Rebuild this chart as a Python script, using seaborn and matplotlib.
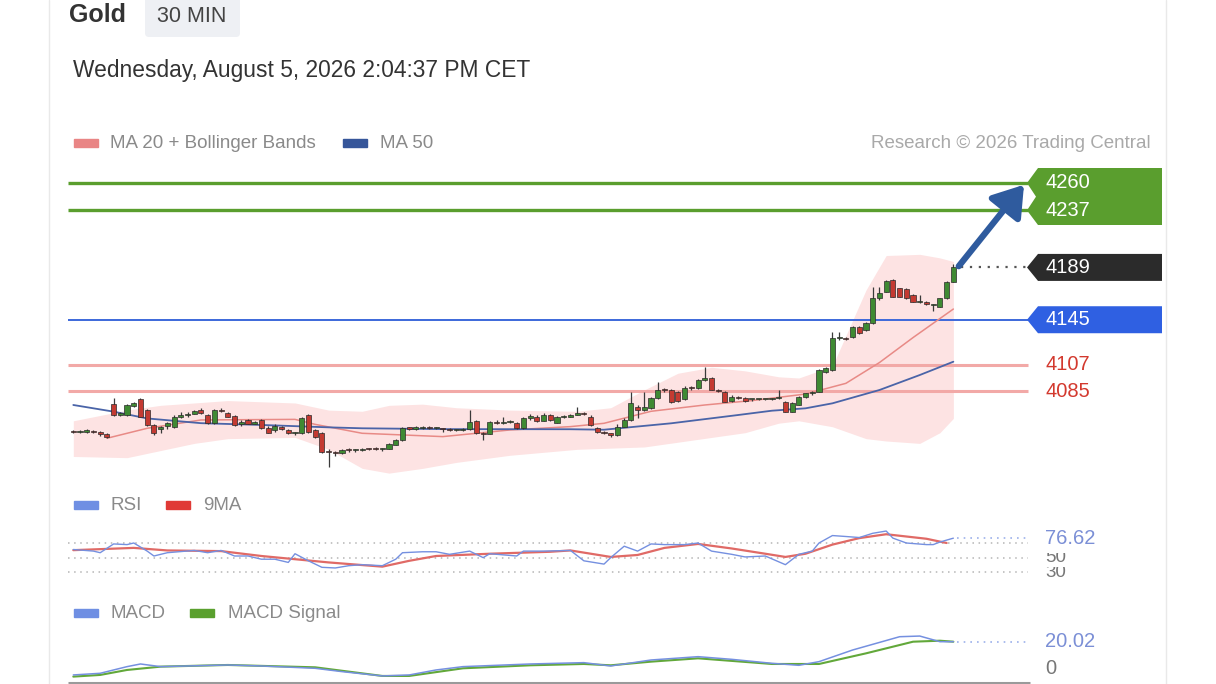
import numpy as np
import pandas as pd
import matplotlib
matplotlib.use("Agg")
import matplotlib.pyplot as plt
import matplotlib.transforms as mtransforms
from matplotlib.patches import Polygon, Rectangle, FancyBboxPatch
from matplotlib.lines import Line2D
import seaborn as sns

# ---------------------------------------------------------------------
# data (30 min candles, gold)
opens = [4051.0, 4050.5, 4051.0, 4051.5, 4050.5, 4049.0, 4074.5, 4065.0, 4064.5, 4072.5,
         4078.0, 4069.0, 4056.5, 4053.0, 4055.5, 4055.0, 4063.5, 4065.0, 4066.0, 4069.0,
         4065.0, 4058.0, 4069.0, 4066.5, 4064.0, 4057.0, 4060.7, 4057.5, 4060.7, 4054.0,
         4052.0, 4055.0, 4052.0, 4049.5, 4050.0, 4064.9, 4052.0, 4050.0, 4034.0, 4033.0,
         4033.0, 4035.5, 4035.4, 4035.8, 4036.8, 4037.0, 4036.0, 4036.5, 4040.0, 4043.8,
         4053.7, 4053.5, 4054.0, 4055.0, 4054.0, 4053.5, 4052.8, 4052.3, 4052.5, 4053.0,
         4060.0, 4049.5, 4049.0, 4059.0, 4058.4, 4059.3, 4058.0, 4053.7, 4062.0, 4063.5,
         4060.0, 4064.5, 4058.5, 4063.5, 4063.5, 4065.0, 4066.0, 4063.5, 4053.7, 4050.9,
         4049.5, 4048.0, 4055.0, 4060.7, 4071.9, 4069.0, 4070.5, 4079.0, 4086.0, 4085.9,
         4084.0, 4078.0, 4087.9, 4087.3, 4094.3, 4095.7, 4086.0, 4084.5, 4077.0, 4080.3,
         4079.5, 4078.0, 4078.0, 4078.0, 4078.5, 4079.0, 4076.0, 4067.7, 4073.5, 4080.0,
         4083.0, 4084.5, 4101.0, 4102.7, 4129.4, 4129.4, 4130.8, 4139.2, 4136.0, 4142.0,
         4163.0, 4168.6, 4178.5, 4171.4, 4171.0, 4165.8, 4160.2, 4159.5, 4157.5, 4156.0,
         4163.0, 4177.0]
highs = [4052.5, 4052.0, 4053.0, 4052.5, 4051.5, 4049.5, 4079.0, 4067.5, 4074.0, 4076.0,
         4079.5, 4070.0, 4057.0, 4056.0, 4059.0, 4064.5, 4067.0, 4067.0, 4069.5, 4070.5,
         4066.0, 4070.0, 4070.5, 4067.5, 4064.5, 4060.5, 4061.5, 4060.0, 4061.5, 4056.0,
         4057.0, 4056.0, 4053.0, 4051.0, 4063.0, 4066.0, 4053.0, 4051.0, 4036.0, 4034.5,
         4036.0, 4037.0, 4036.5, 4037.5, 4037.5, 4038.0, 4037.5, 4041.0, 4044.5, 4054.5,
         4055.0, 4055.5, 4056.0, 4055.5, 4054.5, 4054.0, 4054.0, 4053.5, 4054.0, 4069.0,
         4061.0, 4050.5, 4060.0, 4061.0, 4063.5, 4061.0, 4059.0, 4063.0, 4065.5, 4064.5,
         4066.5, 4065.5, 4064.0, 4065.0, 4066.0, 4071.5, 4067.0, 4064.5, 4054.5, 4051.5,
         4050.0, 4057.0, 4062.0, 4084.5, 4073.0, 4084.5, 4080.0, 4093.0, 4088.0, 4087.0,
         4085.0, 4089.0, 4089.0, 4095.0, 4105.6, 4096.5, 4087.0, 4085.0, 4081.5, 4081.0,
         4080.0, 4078.5, 4078.5, 4078.5, 4079.0, 4085.5, 4077.0, 4075.5, 4081.0, 4083.5,
         4085.0, 4103.5, 4105.5, 4135.0, 4135.0, 4130.5, 4140.0, 4140.0, 4143.0, 4172.8,
         4172.8, 4178.5, 4179.5, 4172.0, 4172.0, 4166.5, 4165.8, 4161.0, 4158.5, 4163.5,
         4177.5, 4192.0]
lows = [4049.5, 4049.5, 4050.0, 4049.5, 4047.5, 4045.5, 4064.0, 4064.0, 4064.0, 4071.5,
        4063.0, 4056.0, 4048.0, 4050.0, 4053.0, 4054.0, 4062.5, 4063.0, 4065.5, 4065.5,
        4057.0, 4057.5, 4067.0, 4063.0, 4056.0, 4056.0, 4057.0, 4057.0, 4053.0, 4049.5,
        4051.0, 4052.0, 4048.5, 4048.0, 4049.0, 4050.0, 4045.5, 4033.0, 4021.0, 4030.5,
        4032.0, 4034.0, 4034.0, 4035.0, 4035.5, 4035.5, 4035.0, 4036.0, 4039.5, 4043.0,
        4052.0, 4052.5, 4053.0, 4053.5, 4053.5, 4051.0, 4051.5, 4051.5, 4051.5, 4052.5,
        4049.0, 4043.8, 4048.5, 4057.5, 4057.5, 4058.0, 4053.0, 4053.0, 4061.0, 4059.0,
        4059.5, 4060.0, 4058.0, 4062.0, 4063.0, 4064.5, 4064.5, 4056.0, 4050.0, 4049.0,
        4046.0, 4047.0, 4054.5, 4060.0, 4062.0, 4068.0, 4070.0, 4078.0, 4084.0, 4075.0,
        4075.5, 4077.5, 4086.0, 4086.5, 4093.5, 4085.5, 4084.0, 4075.5, 4076.0, 4078.5,
        4076.0, 4077.0, 4077.5, 4077.5, 4077.5, 4078.0, 4067.0, 4067.0, 4073.0, 4079.5,
        4082.0, 4084.0, 4100.5, 4102.0, 4128.0, 4128.0, 4130.0, 4133.0, 4135.5, 4141.0,
        4162.0, 4168.0, 4164.0, 4164.0, 4162.5, 4159.5, 4159.0, 4157.0, 4152.0, 4155.5,
        4162.5, 4176.5]
closes = [4050.5, 4051.0, 4051.5, 4050.5, 4049.0, 4046.5, 4065.0, 4066.5, 4073.0, 4075.0,
          4063.5, 4056.5, 4049.5, 4055.0, 4058.0, 4063.5, 4065.0, 4066.0, 4068.5, 4066.3,
          4058.0, 4069.0, 4068.5, 4063.5, 4056.5, 4059.3, 4057.3, 4059.0, 4053.7, 4050.0,
          4056.0, 4052.8, 4049.5, 4050.0, 4062.0, 4050.9, 4046.6, 4034.0, 4033.5, 4032.6,
          4035.4, 4035.4, 4035.8, 4036.3, 4036.3, 4036.0, 4037.0, 4040.5, 4044.0, 4053.7,
          4053.5, 4054.0, 4055.0, 4054.0, 4054.0, 4052.8, 4052.3, 4052.5, 4053.0, 4059.3,
          4049.5, 4049.0, 4059.3, 4058.4, 4059.3, 4059.5, 4053.7, 4062.1, 4064.0, 4060.0,
          4064.9, 4060.7, 4063.5, 4063.5, 4065.0, 4066.3, 4065.5, 4056.5, 4050.9, 4049.5,
          4048.0, 4055.0, 4060.7, 4074.7, 4069.0, 4071.9, 4079.0, 4086.0, 4085.9, 4076.1,
          4077.0, 4087.9, 4087.5, 4094.3, 4095.7, 4086.0, 4085.0, 4076.0, 4080.3, 4079.5,
          4076.5, 4078.0, 4078.0, 4078.0, 4078.5, 4079.5, 4067.7, 4074.7, 4080.3, 4083.0,
          4084.5, 4102.7, 4104.7, 4129.4, 4129.4, 4129.0, 4139.2, 4133.5, 4142.0, 4163.0,
          4167.2, 4177.6, 4164.4, 4164.4, 4163.0, 4160.2, 4160.5, 4158.0, 4157.5, 4163.0,
          4177.0, 4189.0]

# MA 20, MA 50 and Bollinger envelope, sampled at candle numbers
ma20_idx = [5, 11, 19, 33, 36, 43, 55, 65, 74, 79, 86, 94, 101, 109, 115, 120, 125, 131]
ma20_val = [4045.3, 4053.7, 4060.7, 4061.2, 4057.0, 4049.5, 4046.7, 4052.3, 4055.1, 4057.9,
            4068.0, 4073.3, 4077.0, 4082.5, 4091.5, 4109.0, 4130.0, 4154.0]
ma50_idx = [0, 6, 11, 19, 28, 38, 43, 55, 74, 79, 89, 99, 104, 109, 113, 120, 126, 131]
ma50_val = [4073.3, 4067.7, 4062.0, 4058.0, 4056.5, 4054.5, 4053.7, 4053.0, 4052.9, 4052.5,
            4057.9, 4064.9, 4068.5, 4070.5, 4074.7, 4085.9, 4098.5, 4109.7]
bb_idx = [0, 8, 13, 18, 23, 33, 38, 43, 47, 52, 57, 65, 75, 80, 85, 90, 95, 100, 105, 108,
          113, 118, 121, 126, 129, 131]
bb_upper = [4060, 4069, 4073, 4075, 4077, 4075, 4069, 4068, 4073, 4074, 4071, 4069, 4068,
            4071, 4086, 4100, 4105, 4102, 4097, 4096, 4106, 4170, 4199, 4200, 4197, 4194]
bb_lower = [4030, 4029, 4035, 4041, 4045, 4046, 4036, 4020, 4016, 4020, 4025, 4031, 4036,
            4037, 4038, 4042, 4046, 4050, 4058, 4060, 4055, 4045, 4043, 4041, 4050, 4062]

# key levels
targets = [4260, 4237]
last_price = 4189
pivot = 4145
supports = [4107, 4085]

# RSI + 9MA
rsi_idx = [0, 3, 4, 6, 8, 9, 11, 12, 14, 18, 20, 22, 24, 26, 28, 30, 32, 33, 35, 37, 39,
           41, 43, 46, 48, 49, 52, 54, 56, 59, 61, 62, 66, 67, 70, 74, 76, 79, 80, 82, 84,
           86, 88, 91, 93, 95, 98, 100, 103, 106, 108, 110, 111, 113, 115, 117, 119, 121,
           122, 124, 127, 128, 129, 131]
rsi_val = [61.1, 58.9, 56.7, 68.7, 67.8, 70.0, 58.9, 52.2, 56.7, 59.8, 56.7, 59.8, 52.2,
           52.2, 47.8, 47.8, 43.4, 55.3, 45.6, 36.7, 35.8, 38.9, 40.3, 38.9, 47.8, 56.7,
           58.0, 58.0, 54.5, 58.9, 50.0, 55.3, 52.2, 58.9, 58.9, 59.8, 45.6, 41.1, 50.0,
           65.6, 58.9, 68.7, 67.8, 67.8, 70.0, 58.9, 54.5, 50.9, 52.2, 40.3, 54.5, 58.9,
           70.0, 80.2, 78.9, 77.5, 83.3, 86.4, 76.7, 70.0, 67.8, 67.8, 71.3, 76.62]
rsi_ma_idx = [0, 9, 14, 22, 28, 33, 38, 46, 50, 54, 62, 71, 74, 80, 84, 88, 93, 98, 103,
              106, 109, 113, 117, 121, 124, 127, 130]
rsi_ma_val = [60.2, 63.3, 59.8, 58.9, 52.2, 47.8, 43.4, 37.6, 45.6, 52.2, 55.3, 58.0, 59.8,
              50.9, 53.6, 63.3, 68.7, 62.5, 55.3, 50.9, 55.3, 67.8, 76.7, 82.0, 78.9, 75.8,
              70.0]
rsi_last = 76.62
rsi_levels = [70, 50, 30]

# MACD + signal
macd_idx = [0, 4, 8, 10, 13, 23, 28, 36, 40, 46, 50, 54, 58, 68, 76, 80, 86, 93, 98, 104,
            108, 111, 116, 123, 126, 129, 131]
macd_val = [-5.0, -3.75, 1.25, 3.25, 1.25, 2.5, 1.75, 0.0, -2.5, -5.75, -5.0, -1.25, 1.25,
            3.25, 4.25, 1.75, 6.25, 8.75, 6.75, 3.75, 2.25, 5.0, 13.75, 23.75, 24.25, 20.0,
            20.02]
sig_idx = [0, 4, 8, 13, 23, 36, 46, 50, 58, 68, 76, 80, 86, 93, 104, 111, 118, 125, 129, 131]
sig_val = [-6.25, -5.0, -1.25, 1.25, 2.5, 0.75, -5.75, -5.75, 0.0, 2.25, 3.25, 2.25, 5.0,
           7.5, 3.25, 3.25, 11.25, 20.0, 20.75, 20.0]
macd_last = 20.02

# ---------------------------------------------------------------------
sns.set_theme(style="white")
plt.rcParams["font.family"] = ["Liberation Sans", "DejaVu Sans"]

W, H = 1216, 684
X0, DX = 73.3, 6.718          # pixel x of first candle, pixel step per candle
PY0, PPU = 183.0, 1.189       # pixel y of the 4260 level, pixels per dollar

GREEN, RED = "#3f8a33", "#c43a32"
LBL_GREEN, LBL_BLUE, LBL_DARK = "#5a9e2e", "#2f60e2", "#2b2b2b"
IND_BLUE = "#7590e0"


def i_at(px):
    return (px - X0) / DX


def price_at(py):
    return targets[0] - (py - PY0) / PPU


def rsi_at(py):
    return 70 - (py - 543) / 0.73


def macd_at(py):
    return (668.3 - py) / 1.33


def rect(l, t, r, b):
    return [l / W, 1 - b / H, (r - l) / W, (b - t) / H]


fig = plt.figure(figsize=(W / 100, H / 100), dpi=100)
fig.patch.set_facecolor("white")
pix = mtransforms.Affine2D().scale(1 / W, -1 / H).translate(0, 1) + fig.transFigure


def txt(px, py, s, **kw):
    kw.setdefault("va", "center")
    return fig.text(px / W, 1 - py / H, s, **kw)


# card borders
for bx in (49, 1166):
    fig.add_artist(Line2D([bx / W, bx / W], [0, 1], color="#e9e9e9", lw=1))

# header --------------------------------------------------------------
txt(69, 15, "Gold", fontsize=18, fontweight="bold", color="#333333")
fig.add_artist(FancyBboxPatch((145, -8), 95, 45, boxstyle="round,pad=0,rounding_size=4",
                              transform=pix, facecolor="#eef0f4", edgecolor="none"))
txt(157, 16, "30 MIN", fontsize=15.5, color="#444444")
txt(73, 71, "Wednesday, August 5, 2026 2:04:37 PM CET", fontsize=16.4, color="#333333")

LEG = dict(fontsize=13.5, color="#8a8a8a")
fig.add_artist(Rectangle((74, 139), 24, 8, transform=pix, color="#e98585"))
txt(110, 143, "MA 20 + Bollinger Bands", **LEG)
fig.add_artist(Rectangle((343, 139), 24, 8, transform=pix, color="#36569a"))
txt(380, 143, "MA 50", **LEG)
txt(1151, 143, "Research \u00a9 2026 Trading Central", ha="right", fontsize=13.5,
    color="#a9a9a9")

# price panel ---------------------------------------------------------
ax = fig.add_axes(rect(68, 160, 1164, 482))
ax.set_xlim(i_at(68), i_at(1164))
ax.set_ylim(price_at(482), price_at(160))
ax.set_axis_off()

ax.fill_between(bb_idx, bb_lower, bb_upper, color="#fde3e3", lw=0, zorder=1)
sns.lineplot(x=ma20_idx, y=ma20_val, ax=ax, color="#e88a86", lw=1.1, zorder=3)
sns.lineplot(x=ma50_idx, y=ma50_val, ax=ax, color="#4a64a8", lw=1.3, zorder=3)

x_l, x_r = i_at(68), i_at(1028)
ax.hlines(targets, x_l, x_r, color=LBL_GREEN, lw=2.4, zorder=2)
ax.hlines(supports, x_l, x_r, color="#f2a9a7", lw=2.2, zorder=2)
ax.hlines(pivot, x_l, x_r, color="#3c68da", lw=1.4, zorder=2)

df = pd.DataFrame({"o": opens, "h": highs, "l": lows, "c": closes})
df["i"] = np.arange(len(df))
up = df["c"] >= df["o"]
ax.vlines(df["i"], df["l"], df["h"], color="#3a3a3a", lw=0.9, zorder=4)
ax.bar(df["i"], (df["c"] - df["o"]).abs().clip(lower=0.9), bottom=df[["o", "c"]].min(axis=1),
       width=0.76, color=np.where(up, GREEN, RED), edgecolor="#2a2a2a", linewidth=0.5,
       zorder=5)

# dotted line from last candle to the price tag
ax.hlines(last_price, len(df) - 1 + 1.2, i_at(1026), color="#555555", lw=1.6,
          linestyles=(0, (1, 3)), zorder=2)

# trend arrow towards the targets
ax.annotate("", xy=(i_at(1024), targets[0] - 1.5), xytext=(len(df) - 1 + 0.8, last_price + 1),
            arrowprops=dict(arrowstyle="-|>,head_length=0.9,head_width=0.6", color="#2f5b9e",
                            lw=4.5, mutation_scale=20, shrinkA=0, shrinkB=0), zorder=6)

# price tags
tip, box_l, box_r = i_at(1027), i_at(1038), i_at(1162)
g_top, g_bot = price_at(168), price_at(225)
notch = (targets[0] + targets[1]) / 2
ax.add_patch(Polygon([(box_l, g_top), (box_r, g_top), (box_r, g_bot), (box_l, g_bot),
                      (tip, targets[1]), (i_at(1036), notch), (tip, targets[0])],
                     closed=True, facecolor=LBL_GREEN, edgecolor="none", clip_on=False,
                     zorder=5))
half = 13.5 / PPU
for lvl, col in ((last_price, LBL_DARK), (pivot, LBL_BLUE)):
    ax.add_patch(Polygon([(box_l, lvl + half), (box_r, lvl + half), (box_r, lvl - half),
                          (box_l, lvl - half), (tip, lvl)],
                         closed=True, facecolor=col, edgecolor="none", clip_on=False,
                         zorder=5))

TAG = dict(fontsize=14.5, va="center")
for lvl in targets + [last_price, pivot]:
    ax.text(i_at(1045), lvl, str(lvl), color="white", zorder=7, **TAG)
for lvl in supports:
    ax.text(i_at(1045), lvl, str(lvl), color="#d3392e", zorder=7, **TAG)

# RSI panel -----------------------------------------------------------
fig.add_artist(Rectangle((74, 501), 24, 8, transform=pix, color="#6f8fe3"))
txt(110, 505, "RSI", **LEG)
fig.add_artist(Rectangle((166, 501), 24, 8, transform=pix, color="#e03a36"))
txt(203, 505, "9MA", **LEG)

ax2 = fig.add_axes(rect(68, 518, 1164, 594))
ax2.set_xlim(i_at(68), i_at(1164))
ax2.set_ylim(rsi_at(594), rsi_at(518))
ax2.set_axis_off()
ax2.hlines(rsi_levels, x_l, x_r, color="#b5b5b5", lw=1.1, linestyles=(0, (1, 3)))
sns.lineplot(x=rsi_ma_idx, y=rsi_ma_val, ax=ax2, color="#e06a66", lw=1.6, zorder=3)
sns.lineplot(x=rsi_idx, y=rsi_val, ax=ax2, color=IND_BLUE, lw=1.0, zorder=4)
ax2.hlines(rsi_last, rsi_idx[-1] + 0.5, i_at(1026), color="#9cb0ea", lw=1.2,
           linestyles=(0, (1, 3)))
ax2.text(i_at(1045), rsi_last, f"{rsi_last:.2f}", color="#7b8fd6", fontsize=14.5,
         va="center")
# the 50 / 30 scale labels only show their lower half in the original
for lvl, clip_top in ((50, 553), (30, 567)):
    t = ax2.text(i_at(1045), lvl, str(lvl), color="#777777", fontsize=13.5, va="center")
    t.set_clip_on(True)
    t.set_clip_path(Rectangle((1030, clip_top), 90, 12, transform=pix))

# MACD panel ----------------------------------------------------------
fig.add_artist(Rectangle((74, 609), 24, 8, transform=pix, color="#6f8fe3"))
txt(110, 613, "MACD", **LEG)
fig.add_artist(Rectangle((190, 609), 24, 8, transform=pix, color="#5aa02e"))
txt(228, 613, "MACD Signal", **LEG)

ax3 = fig.add_axes(rect(68, 622, 1164, 684))
ax3.set_xlim(i_at(68), i_at(1164))
ax3.set_ylim(macd_at(684), macd_at(622))
ax3.set_axis_off()
sns.lineplot(x=sig_idx, y=sig_val, ax=ax3, color="#62a83a", lw=1.5, zorder=3)
sns.lineplot(x=macd_idx, y=macd_val, ax=ax3, color=IND_BLUE, lw=1.1, zorder=4)
ax3.hlines(macd_last, macd_idx[-1] + 0.5, i_at(1026), color="#9cb0ea", lw=1.2,
           linestyles=(0, (1, 3)))
ax3.hlines(macd_at(682.5), x_l, i_at(1030), color="#9a9a9a", lw=2.2, clip_on=False)
ax3.text(i_at(1045), macd_last, f"{macd_last:.2f}", color="#7b8fd6", fontsize=14.5,
         va="center")
ax3.text(i_at(1045), 0, "0", color="#777777", fontsize=14.5, va="center")

fig.savefig("out.png", dpi=100, facecolor="white")
